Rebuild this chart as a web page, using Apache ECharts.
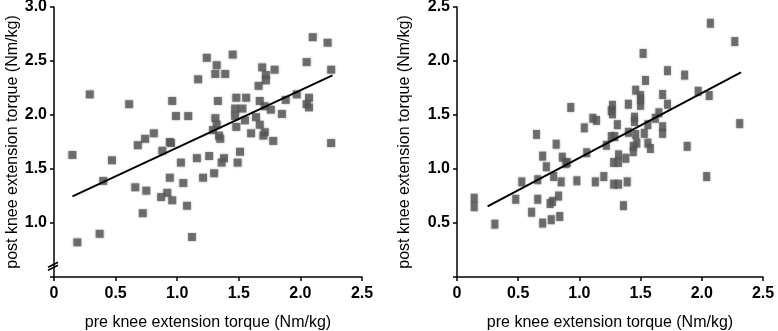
<!DOCTYPE html>
<html>
<head>
<meta charset="utf-8">
<script src="https://cdn.jsdelivr.net/npm/echarts@6/dist/echarts.min.js"></script>
<style>
html, body { margin: 0; padding: 0; background: #fff; }
#main { width: 778px; height: 331px; }
</style>
</head>
<body>
<div id="main"></div>
<script>
// left panel: pre vs post (first group)
var preLeft = [1.60,2.10,2.22,2.05,2.25,1.45,1.24,1.32,1.31,1.39,1.17,1.69,1.79,1.72,1.72,1.66,0.29,0.61,0.96,1.33,
  1.48,1.56,1.67,1.71,1.88,1.97,2.07,2.05,2.07,1.47,1.53,1.76,1.85,1.47,0.99,1.09,1.31,1.64,1.55,1.32,
  1.67,1.48,1.29,1.71,0.81,0.74,1.34,1.60,1.70,0.68,0.94,0.95,0.88,1.35,1.78,2.25,0.15,0.47,1.03,1.16,
  1.26,1.38,1.36,1.51,1.49,0.40,0.66,0.75,0.94,1.05,1.21,1.30,0.92,0.87,0.96,1.08,0.72,0.37,0.19,1.12];
var postLeft = [3.02,2.72,2.67,2.49,2.42,2.56,2.53,2.46,2.38,2.38,2.33,2.44,2.42,2.37,2.32,2.27,2.19,2.10,2.13,2.13,
  2.16,2.16,2.13,2.08,2.14,2.19,2.16,2.10,2.07,2.06,2.06,2.05,2.01,1.99,1.99,1.99,1.97,1.98,1.95,1.91,
  1.91,1.89,1.86,1.84,1.83,1.78,1.81,1.83,1.81,1.72,1.75,1.74,1.67,1.78,1.76,1.74,1.63,1.58,1.56,1.60,
  1.62,1.60,1.56,1.66,1.56,1.39,1.33,1.30,1.42,1.37,1.42,1.46,1.28,1.24,1.21,1.16,1.09,0.90,0.82,0.87];
var fitLeftX = [0.15, 2.26];
var fitLeftY = [1.247, 2.367];

// right panel
var preRight = [2.07,2.27,1.52,1.72,1.86,1.54,1.46,1.50,1.50,1.50,1.68,1.97,2.06,1.40,1.72,1.27,1.26,1.27,0.93,1.65,
  1.62,1.45,1.45,1.11,1.14,1.31,1.04,1.56,1.68,2.31,0.65,1.26,1.29,1.40,1.46,1.53,1.68,0.81,1.22,1.47,
  1.56,1.58,1.44,1.44,1.88,1.06,1.32,1.38,1.28,1.32,0.70,0.86,0.90,0.89,0.73,0.79,0.66,0.53,0.85,0.98,
  1.13,1.20,1.28,1.32,1.39,2.04,1.36,0.14,0.14,0.48,0.66,0.83,0.76,0.78,0.61,0.84,0.77,0.70,0.31];
var postRight = [2.35,2.18,2.07,1.91,1.87,1.82,1.73,1.68,1.64,1.59,1.69,1.72,1.68,1.60,1.60,1.59,1.54,1.51,1.57,1.52,
  1.47,1.48,1.44,1.47,1.45,1.41,1.38,1.41,1.39,1.42,1.32,1.30,1.30,1.34,1.32,1.33,1.33,1.23,1.22,1.24,
  1.24,1.19,1.21,1.16,1.21,1.15,1.13,1.10,1.06,1.06,1.12,1.11,1.06,1.05,1.02,0.93,0.90,0.88,0.88,0.89,
  0.88,0.93,0.86,0.86,0.88,0.93,0.66,0.73,0.65,0.72,0.72,0.75,0.68,0.70,0.60,0.56,0.53,0.50,0.49];
var fitRightX = [0.25, 2.32];
var fitRightY = [0.655, 1.894];

var xTicks = [0, 0.5, 1.0, 1.5, 2.0, 2.5];

function pairs(xs, ys) {
  var out = [];
  for (var i = 0; i < xs.length; i++) out.push([xs[i], ys[i]]);
  return out;
}

var dom = document.getElementById("main");
var myChart = echarts.init(dom, null, { renderer: 'canvas' });

var fontFam = '"Liberation Sans", Arial, sans-serif';
var axisLine = { show: true, onZero: false, lineStyle: { color: '#000', width: 1.5 } };
var axisTick = { show: true, length: 4, lineStyle: { color: '#000', width: 1.5 } };
var tickLabel = { color: '#000', fontSize: 16, fontWeight: 'bold', fontFamily: fontFam };
var nameStyle = { color: '#000', fontSize: 16, fontFamily: fontFam };

function xAxisFor(idx) {
  return {
    gridIndex: idx, type: 'value', min: xTicks[0], max: xTicks[xTicks.length - 1], interval: 0.5,
    name: 'pre knee extension torque (Nm/kg)', nameLocation: 'middle', nameGap: 38, nameTextStyle: nameStyle,
    axisLine: axisLine, axisTick: axisTick, splitLine: { show: false },
    axisLabel: Object.assign({ margin: 9, formatter: function (v) { return v === 0 ? '0' : v.toFixed(1); } }, tickLabel)
  };
}

function yAxisFor(idx, min, max, gap) {
  return {
    gridIndex: idx, type: 'value', min: min, max: max, interval: 0.5,
    name: 'post knee extension torque (Nm/kg)', nameLocation: 'middle', nameGap: gap, nameTextStyle: nameStyle,
    axisLine: axisLine, axisTick: axisTick, splitLine: { show: false },
    axisLabel: Object.assign({ margin: 7, formatter: function (v) { return v === min ? '' : v.toFixed(1); } }, tickLabel)
  };
}

var dotStyle = { color: '#5a5a5a', opacity: 0.82, shadowBlur: 2, shadowColor: 'rgba(0,0,0,0.35)' };

option = {
  animation: false,
  backgroundColor: '#fff',
  grid: [
    { left: 54, top: 7, width: 308, height: 270, containLabel: false, outerBoundsMode: 'none' },
    { left: 457, top: 7, width: 306, height: 270, containLabel: false, outerBoundsMode: 'none' }
  ],
  xAxis: [xAxisFor(0), xAxisFor(1)],
  yAxis: [yAxisFor(0, 0.5, 3.0, 33), yAxisFor(1, 0, 2.5, 44)],
  series: [
    { type: 'scatter', xAxisIndex: 0, yAxisIndex: 0, symbol: 'rect', symbolSize: 8,
      data: pairs(preLeft, postLeft), itemStyle: dotStyle },
    { type: 'line', xAxisIndex: 0, yAxisIndex: 0, showSymbol: false, symbol: 'none',
      data: pairs(fitLeftX, fitLeftY), lineStyle: { color: '#000', width: 2 }, z: 3 },
    { type: 'scatter', xAxisIndex: 1, yAxisIndex: 1, symbol: 'rect', symbolSize: [7, 9],
      data: pairs(preRight, postRight), itemStyle: dotStyle },
    { type: 'line', xAxisIndex: 1, yAxisIndex: 1, showSymbol: false, symbol: 'none',
      data: pairs(fitRightX, fitRightY), lineStyle: { color: '#000', width: 2 }, z: 3 }
  ]
};

if (option && typeof option === "object") {
  myChart.setOption(option, true);
}

// axis break marks on the left y axis
var bp = myChart.convertToPixel({ gridIndex: 0 }, [0, 0.6]);
var ax = 54;
myChart.setOption({
  graphic: [
    { type: 'line', shape: { x1: ax - 6, y1: bp[1] + 1, x2: ax + 4, y2: bp[1] - 4 }, style: { stroke: '#000', lineWidth: 1.8 }, z: 10 },
    { type: 'line', shape: { x1: ax - 6, y1: bp[1] + 4, x2: ax + 4, y2: bp[1] - 1 }, style: { stroke: '#000', lineWidth: 1.8 }, z: 10 }
  ]
});
</script>
</body>
</html>
